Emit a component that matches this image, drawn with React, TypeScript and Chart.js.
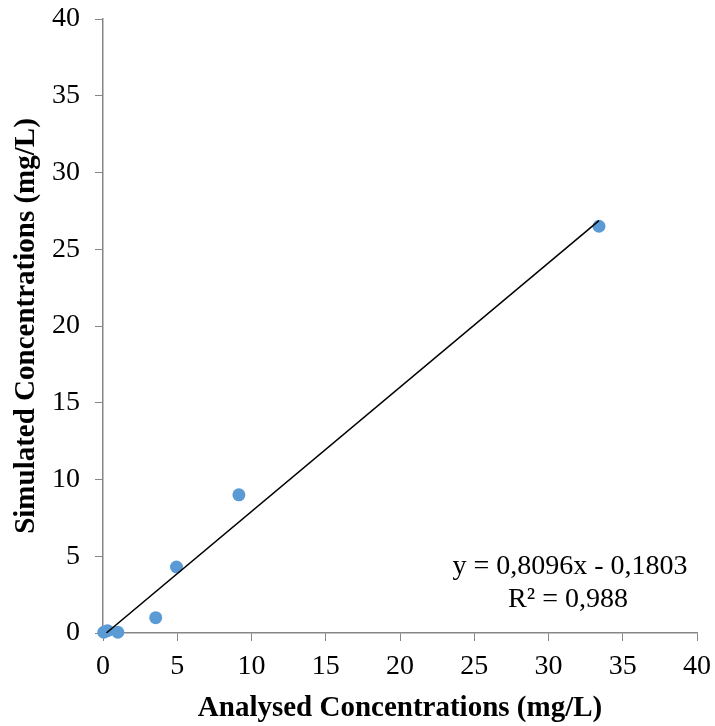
import React, { useEffect, useRef } from "react";
import { Chart, registerables } from "chart.js";
Chart.register(...registerables);

const analysed = [0.05, 0.3, 1.0, 3.55, 4.95, 9.15, 33.4];
const simulated = [0.05, 0.15, 0.05, 1.0, 4.3, 9.0, 26.5];
const slope = 0.8096;
const intercept = -0.1803;
const r2Label = "R² = 0,988";
const eqLabel = "y = 0,8096x - 0,1803";
const xTitle = "Analysed Concentrations (mg/L)";
const yTitle = "Simulated Concentrations (mg/L)";
const axisMin = 0;
const axisMax = 40;
const tickStep = 5;

const FONT = "'Liberation Serif', 'Times New Roman', serif";

export default function App() {
  const ref = useRef<HTMLCanvasElement>(null);
  useEffect(() => {
    document.body.style.margin = "0";
    const xStart = Math.max(Math.min(...analysed), (axisMin - intercept) / slope);
    const xEnd = Math.max(...analysed);
    const trend = [
      { x: xStart, y: slope * xStart + intercept },
      { x: xEnd, y: slope * xEnd + intercept },
    ];
    const eqPlugin = {
      id: "eq",
      afterDraw(chart: any) {
        const { ctx, scales } = chart;
        ctx.save();
        ctx.fillStyle = "#000";
        ctx.font = `28px ${FONT}`;
        ctx.textAlign = "center";
        ctx.textBaseline = "middle";
        const cx = scales.x.getPixelForValue(31.45);
        ctx.fillText(eqLabel, cx, scales.y.getPixelForValue(4.3));
        ctx.fillText(r2Label, cx - 2, scales.y.getPixelForValue(2.15));
        ctx.restore();
      },
    };
    const chart = new Chart(ref.current!, {
      type: "scatter",
      data: {
        datasets: [
          {
            data: analysed.map((x, i) => ({ x, y: simulated[i] })),
            backgroundColor: "#5B9BD5",
            borderColor: "#5B9BD5",
            pointRadius: 6.5,
            borderWidth: 0,
            clip: false,
            order: 2,
          } as any,
          {
            type: "line",
            data: trend,
            borderColor: "#000",
            borderWidth: 1.5,
            pointRadius: 0,
            showLine: true,
            order: 1,
          } as any,
        ],
      },
      options: {
        animation: false,
        responsive: false,
        plugins: { legend: { display: false }, tooltip: { enabled: false } },
        layout: { padding: { left: 0, right: 18, top: 19, bottom: 0 } },
        scales: {
          x: {
            type: "linear",
            min: axisMin,
            max: axisMax,
            afterFit(s: any) { s.height = 93; s.paddingLeft = 0; s.paddingRight = 0; },
            ticks: { stepSize: tickStep, color: "#000", font: { family: FONT, size: 28 }, padding: 9, maxRotation: 0 },
            grid: { display: true, drawOnChartArea: false, drawTicks: true, tickLength: 8, color: "#868686" },
            border: { color: "#868686", width: 1.5 },
            title: { display: true, text: xTitle, color: "#000", font: { family: FONT, size: 29, weight: "bold" }, padding: { top: 6, bottom: 0 } },
          },
          y: {
            type: "linear",
            min: axisMin,
            max: axisMax,
            afterFit(s: any) { s.width = 103; s.paddingTop = 0; s.paddingBottom = 0; },
            ticks: { stepSize: tickStep, color: "#000", font: { family: FONT, size: 28 }, padding: 15 },
            grid: { display: true, drawOnChartArea: false, drawTicks: true, tickLength: 8, color: "#868686" },
            border: { color: "#868686", width: 1.5 },
            title: { display: true, text: yTitle, color: "#000", font: { family: FONT, size: 29, weight: "bold" }, padding: { top: 9, bottom: 4 } },
          },
        },
      },
      plugins: [eqPlugin],
    });
    return () => chart.destroy();
  }, []);
  return <canvas ref={ref} width={715} height={726} style={{ display: "block" }} />;
}
